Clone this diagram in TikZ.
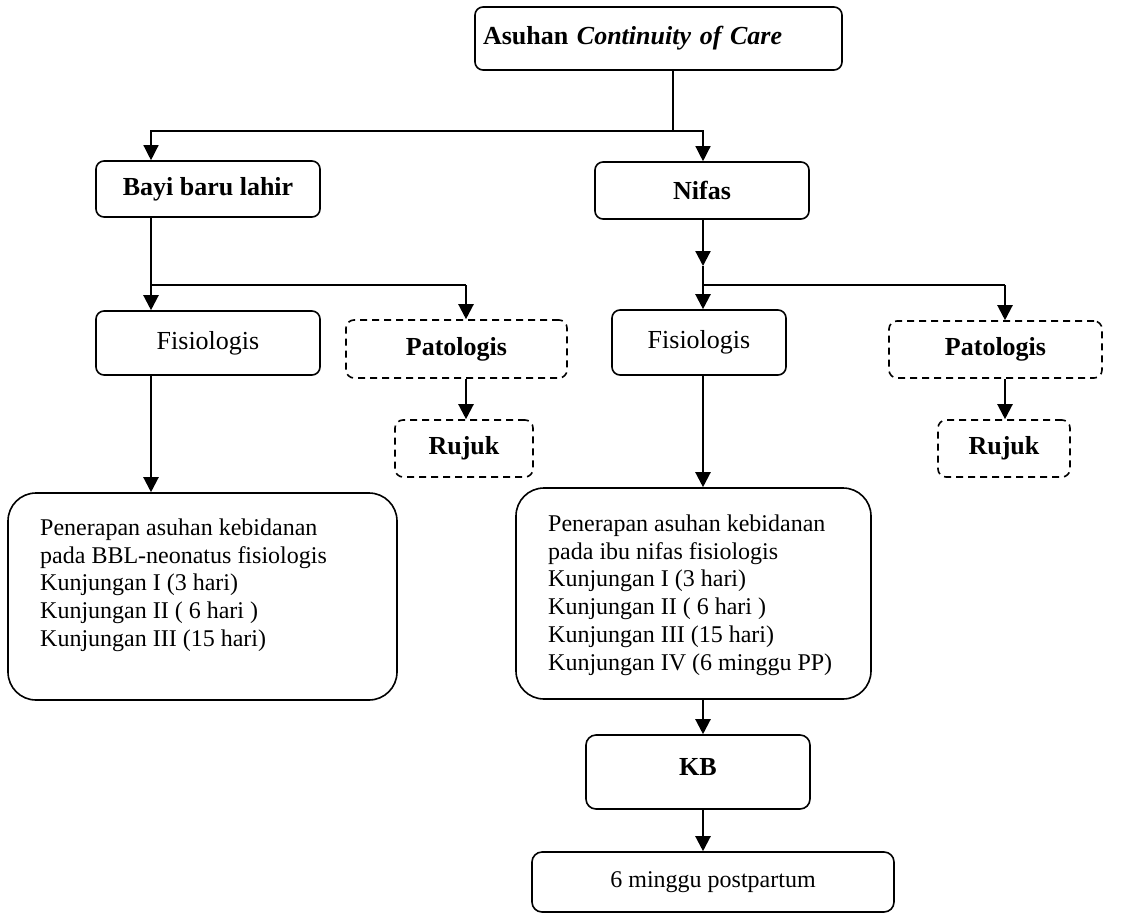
\documentclass[tikz,border=0pt]{standalone}
\usepackage{fontspec}
\setmainfont{Liberation Serif}
\usetikzlibrary{arrows.meta}
\begin{document}
\begin{tikzpicture}[x=1pt,y=-1pt,
  box/.style={draw, line width=1.6pt, rounded corners=8pt, inner sep=0pt, align=center},
  dbox/.style={box, dash pattern=on 7pt off 5pt},
  ttl/.style={font=\fontsize{26}{30}\selectfont\bfseries},
  reg/.style={font=\fontsize{26}{30}\selectfont},
  thinl/.style={line width=1.3pt},
  thinarr/.style={line width=1.3pt, -{Triangle[width=15pt,length=15pt]}},
  arr/.style={line width=2.2pt, -{Triangle[width=15pt,length=15pt]}},
  body/.style={font=\fontsize{24}{27.8}\selectfont, align=left, inner sep=0pt, anchor=north west}
]
\useasboundingbox (0,0) rectangle (1122,919);

% boxes
\node[box, minimum width=367pt, minimum height=63pt, text width=351pt, align=left, inner xsep=8pt,
      font=\fontsize{26}{30}\selectfont] (top) at (658.5,38.5) {\textbf{Asuhan \textit{Continuity of Care}}};
\node[box, ttl, minimum width=224pt, minimum height=56pt] (bayi) at (208,189) {Bayi baru lahir};
\node[box, ttl, minimum width=214pt, minimum height=57pt] (nifas) at (702,190.5) {Nifas};
\node[box, reg, minimum width=224pt, minimum height=64pt] (fisL) at (208,343) {Fisiologis};
\node[dbox, ttl, minimum width=221pt, minimum height=58pt] (patL) at (456.5,349) {Patologis};
\node[dbox, ttl, minimum width=138pt, minimum height=57pt] (rujL) at (464,448.5) {Rujuk};
\node[box, reg, minimum width=174pt, minimum height=65pt] (fisR) at (699,342.5) {Fisiologis};
\node[dbox, ttl, minimum width=213pt, minimum height=57pt] (patR) at (995.5,349.5) {Patologis};
\node[dbox, ttl, minimum width=132pt, minimum height=57pt] (rujR) at (1004,448.5) {Rujuk};
\node[box, rounded corners=28pt, minimum width=389pt, minimum height=207pt] (bigL) at (202.5,596.5) {};
\node[body] (txtL) at (40,518.5) {Penerapan asuhan kebidanan\\pada BBL-neonatus fisiologis\\Kunjungan I (3 hari)\\Kunjungan II ( 6 hari )\\Kunjungan III (15 hari)};
\node[box, rounded corners=28pt, minimum width=355pt, minimum height=211pt] (bigR) at (693.5,593.5) {};
\node[body] (txtR) at (548,514.5) {Penerapan asuhan kebidanan\\pada ibu nifas fisiologis\\Kunjungan I (3 hari)\\Kunjungan II ( 6 hari )\\Kunjungan III (15 hari)\\Kunjungan IV (6 minggu PP)};
\node[box, ttl, rounded corners=10pt, minimum width=224pt, minimum height=74pt, text depth=10pt] (kb) at (698,772) {KB};
\node[box, rounded corners=10pt, minimum width=362pt, minimum height=60pt, font=\fontsize{24}{28}\selectfont] (pp) at (713,882) {6 minggu postpartum};

% x positions of connectors
\coordinate (xL) at (151,0);
\coordinate (xR) at (703,0);
\coordinate (xT) at (673,0);
\coordinate (xPL) at (466,0);
\coordinate (xPR) at (1005,0);
\coordinate (j0) at (673,131);
\coordinate (jL) at (151,285);
\coordinate (mR) at (703,266);
\coordinate (jR) at (703,285);

\draw[thinl] (top.south -| xT) -- (j0);
\draw[thinarr] (j0) -| (bayi.north -| xL);
\draw[thinarr] (j0) -| (nifas.north -| xR);

\draw[arr] (bayi.south -| xL) -- (fisL.north -| xL);
\draw[thinl] (jL) -- (jL -| xPL);
\draw[arr] (jL -| xPL) -- (patL.north -| xPL);
\draw[arr] (patL.south -| xPL) -- (rujL.north -| xPL);
\draw[arr] (fisL.south -| xL) -- (bigL.north -| xL);

\draw[arr] (nifas.south -| xR) -- (mR);
\draw[arr] (mR) -- (fisR.north -| xR);
\draw[thinl] (jR) -- (jR -| xPR);
\draw[arr] (jR -| xPR) -- (patR.north -| xPR);
\draw[arr] (patR.south -| xPR) -- (rujR.north -| xPR);
\draw[arr] (fisR.south -| xR) -- (bigR.north -| xR);
\draw[arr] (bigR.south -| xR) -- (kb.north -| xR);
\draw[arr] (kb.south -| xR) -- (pp.north -| xR);
\end{tikzpicture}
\end{document}
